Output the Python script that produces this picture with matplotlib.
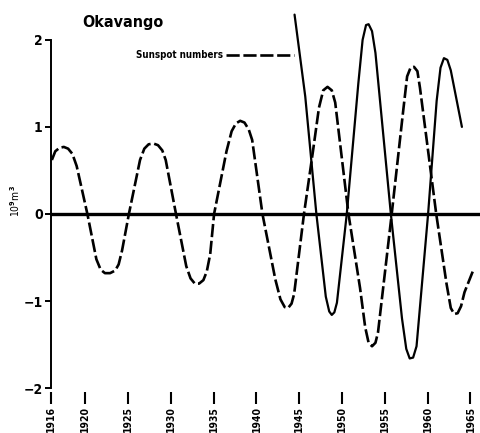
import matplotlib
matplotlib.use("Agg")
import matplotlib.pyplot as plt
from matplotlib import font_manager

# Sunspot numbers (dashed), 10^9 m^3 scale
sun_years = [1916.1, 1916.5, 1917.0, 1917.5, 1918.0, 1918.5, 1919.0, 1920.25,
             1921.3, 1921.8, 1922.3, 1922.9, 1923.5, 1923.9, 1924.3, 1925.1,
             1926.4, 1926.9, 1927.4, 1927.95, 1928.5, 1929.0, 1929.4, 1930.6,
             1931.8, 1932.3, 1932.8, 1933.3, 1933.8, 1934.2, 1934.6, 1935.05,
             1936.5, 1937.1, 1937.6, 1938.1, 1938.6, 1939.1, 1939.5, 1940.7,
             1942.2, 1942.8, 1943.3, 1943.7, 1944.1, 1944.4, 1945.55,
             1946.6, 1947.3, 1947.8, 1948.3, 1948.8, 1949.2, 1950.75,
             1952.1, 1952.7, 1953.1, 1953.5, 1953.9, 1954.2, 1955.8,
             1957.1, 1957.6, 1958.0, 1958.4, 1958.8, 1959.1, 1961.0,
             1962.2, 1962.7, 1963.1, 1963.5, 1963.9, 1964.3, 1965.35]
sun_vals = [0.62, 0.72, 0.76, 0.77, 0.75, 0.69, 0.55, 0.0,
            -0.52, -0.64, -0.68, -0.68, -0.65, -0.58, -0.42, 0.0,
            0.62, 0.75, 0.80, 0.81, 0.79, 0.73, 0.62, 0.0,
            -0.60, -0.74, -0.80, -0.80, -0.76, -0.66, -0.46, 0.0,
            0.72, 0.95, 1.04, 1.07, 1.05, 0.97, 0.85, 0.0,
            -0.75, -0.98, -1.07, -1.08, -1.03, -0.92, 0.0,
            0.72, 1.22, 1.42, 1.46, 1.42, 1.28, 0.0,
            -0.85, -1.30, -1.48, -1.52, -1.48, -1.36, 0.0,
            1.15, 1.58, 1.68, 1.69, 1.64, 1.45, 0.0,
            -0.80, -1.08, -1.15, -1.14, -1.06, -0.90, -0.64]

# Okavango flow (solid)
oka_years = [1944.45, 1945.7, 1947.0, 1948.1, 1948.5, 1948.8, 1949.1, 1949.4,
             1950.55, 1951.9, 1952.4, 1952.8, 1953.1, 1953.5, 1953.9, 1955.7,
             1957.0, 1957.5, 1957.9, 1958.3, 1958.7, 1960.05, 1961.05, 1961.5,
             1961.9, 1962.3, 1962.7, 1964.0]
oka_vals = [2.29, 1.35, 0.0, -0.95, -1.12, -1.16, -1.13, -1.02,
            0.0, 1.50, 2.00, 2.17, 2.18, 2.10, 1.85, 0.0,
            -1.20, -1.55, -1.66, -1.65, -1.52, 0.0, 1.30, 1.68,
            1.79, 1.77, 1.65, 1.00]

xticks = [1916, 1920, 1925, 1930, 1935, 1940, 1945, 1950, 1955, 1960, 1965]
yticks = [-2, -1, 0, 1, 2]
ytick_labels = ["\u22122", "\u22121", "0", "1", "2"]

# condensed face for the labels, whichever is available
names = {f.name for f in font_manager.fontManager.ttflist}
narrow = [n for n in ("Liberation Sans Narrow", "DejaVu Sans Condensed") if n in names]
plt.rcParams["font.family"] = narrow + ["DejaVu Sans"]
plt.rcParams["font.stretch"] = "condensed"
plt.rcParams["font.weight"] = "bold"

fig = plt.figure(figsize=(4.81, 4.33), dpi=100)
ax = fig.add_axes([51 / 481, 40.6 / 433, 430 / 481, 383 / 433])

ax.axhline(0, color="black", lw=2.4, zorder=1)
ax.plot(sun_years, sun_vals, color="black", lw=1.9, ls=(0, (5, 1.4)),
        dash_capstyle="butt", label="Sunspot numbers", zorder=3)
ax.plot(oka_years, oka_vals, color="black", lw=1.6,
        solid_capstyle="round", solid_joinstyle="round", zorder=2)

ax.set_xlim(1916.0, 1966.23)
ax.set_ylim(-2.05, 2.35)

for side in ("top", "right", "bottom"):
    ax.spines[side].set_visible(False)
ax.spines["left"].set_bounds(-2, 2)
ax.spines["left"].set_linewidth(1.4)

ax.set_yticks(yticks)
ax.set_yticklabels(ytick_labels, fontsize=10)
ax.tick_params(axis="y", direction="out", length=4.5, width=1.4, pad=1.5)

ax.set_xticks(xticks)
ax.set_xticklabels([str(y) for y in xticks], rotation=90, fontsize=7.5)
ax.tick_params(axis="x", direction="out", length=8.5, width=1.5, pad=1.5)

ax.set_ylabel("10$^9$m$^3$", fontsize=7.5, va="center")
ax.yaxis.set_label_coords(-36 / 430, 0.5)

fig.text(82 / 481, 1 - 22 / 433, "Okavango", fontsize=11.5, fontweight="bold",
         ha="left", va="center")

ax.legend(loc="center right", bbox_to_anchor=(294 / 481, 1 - 55 / 433),
          bbox_transform=fig.transFigure, markerfirst=False, frameon=False,
          handlelength=7.0, handletextpad=0.3, borderpad=0, borderaxespad=0,
          prop={"size": 7, "weight": "bold"})

fig.savefig("out.png", dpi=100)
